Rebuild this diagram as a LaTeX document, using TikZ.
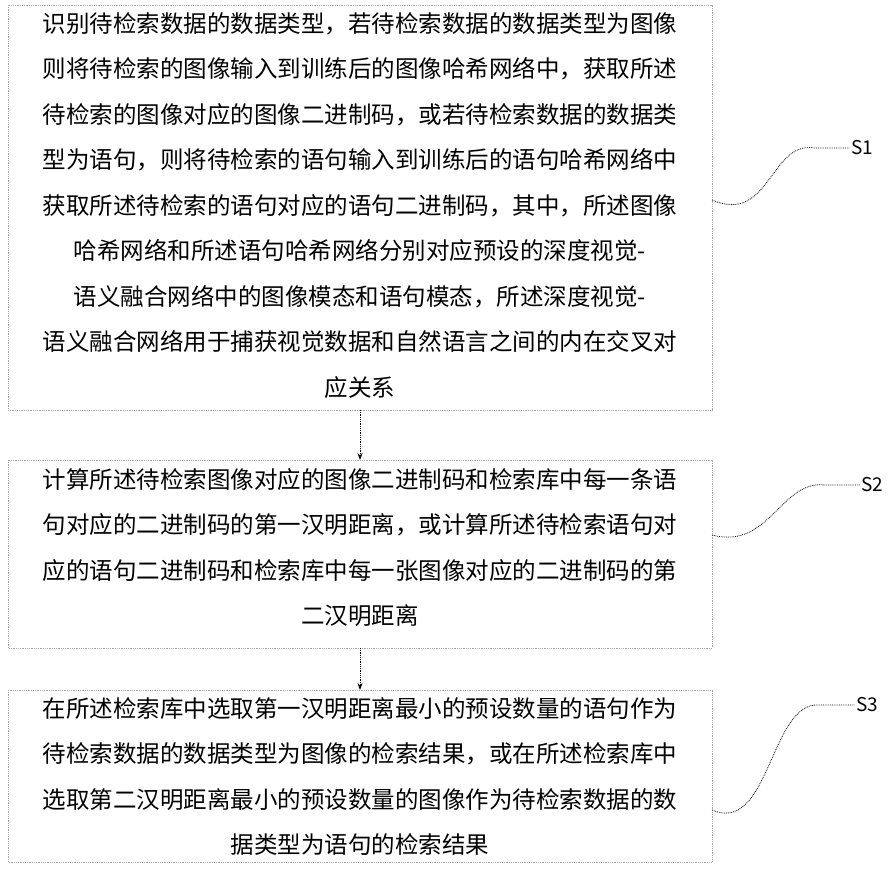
\documentclass[tikz,border=0pt]{standalone}
\usepackage{fontspec}
\usetikzlibrary{arrows.meta}
\setmainfont{Noto Sans CJK SC}
\begin{document}
\begin{tikzpicture}[x=1pt,y=-1pt,
  box/.style={draw=gray!70,densely dotted,line width=0.8pt},
  txt/.style={font=\fontsize{23.5}{45.5}\selectfont,align=center,inner sep=0pt},
  arr/.style={-{Stealth[length=7pt,width=5pt]},densely dotted,line width=0.8pt},
  wave/.style={line width=0.8pt,densely dotted},
  lab/.style={font=\fontsize{19}{20}\selectfont,anchor=west,inner sep=1pt}]
\useasboundingbox (0,0) rectangle (890,875);
\draw[box] (8,5) rectangle (712,410);
\draw[box] (8,460) rectangle (712,648);
\draw[box] (8,690) rectangle (712,862);
\node[txt,anchor=north] (t1) at (360,12) {识别待检索数据的数据类型，若待检索数据的数据类型为图像\\则将待检索的图像输入到训练后的图像哈希网络中，获取所述\\待检索的图像对应的图像二进制码，或若待检索数据的数据类\\型为语句，则将待检索的语句输入到训练后的语句哈希网络中\\获取所述待检索的语句对应的语句二进制码，其中，所述图像\\哈希网络和所述语句哈希网络分别对应预设的深度视觉-\\语义融合网络中的图像模态和语句模态，所述深度视觉-\\语义融合网络用于捕获视觉数据和自然语言之间的内在交叉对\\应关系};
\node[txt,anchor=north] (t2) at (360,468) {计算所述待检索图像对应的图像二进制码和检索库中每一条语\\句对应的二进制码的第一汉明距离，或计算所述待检索语句对\\应的语句二进制码和检索库中每一张图像对应的二进制码的第\\二汉明距离};
\node[txt,anchor=north] (t3) at (360,697) {在所述检索库中选取第一汉明距离最小的预设数量的语句作为\\待检索数据的数据类型为图像的检索结果，或在所述检索库中\\选取第二汉明距离最小的预设数量的图像作为待检索数据的数\\据类型为语句的检索结果};
\coordinate (b1) at (360,410); \coordinate (a2) at (360,460);
\coordinate (b2) at (360,648); \coordinate (a3) at (360,690);
\draw[arr] (b1) -- (a2);
\draw[arr] (b2) -- (a3);
\node[lab] (s1) at (850,148) {S1};
\node[lab] (s2) at (860,485) {S2};
\node[lab] (s3) at (855,705) {S3};
\coordinate (w1) at (712,200); \coordinate (w2) at (712,535); \coordinate (w3) at (712,810);
\draw[wave] (w1) .. controls (770,225) and (770,140) .. (815,148) -- (s1.west);
\draw[wave] (w2) .. controls (770,550) and (780,480) .. (825,485) -- (s2.west);
\draw[wave] (w3) .. controls (770,835) and (770,700) .. (820,705) -- (s3.west);
\end{tikzpicture}
\end{document}
